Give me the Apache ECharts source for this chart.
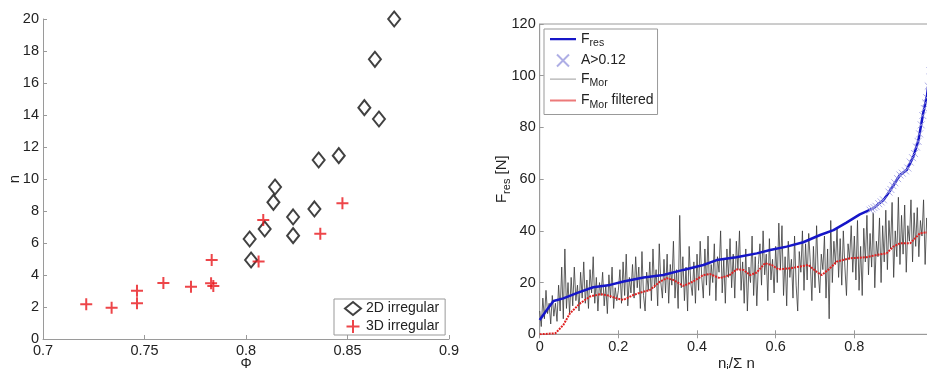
<!DOCTYPE html>
<html>
<head>
<meta charset="utf-8">
<script src="https://cdn.jsdelivr.net/npm/echarts@6/dist/echarts.min.js"></script>
<style>
html,body{margin:0;padding:0;background:#fff;}
#c{width:927px;height:369px;}
</style>
</head>
<body>
<div id="c"></div>
<script>
// ---- Left plot data ----
const phi2D = [0.873,0.8635,0.8583,0.8655,0.8457,0.8358,0.8143,0.8135,0.8337,0.8232,0.8232,0.8092,0.8018,0.8025];
const n2D   = [20.0,17.48,14.46,13.75,11.46,11.19,9.5,8.54,8.13,7.63,6.46,6.88,6.25,4.94];
const phi3D = [0.7213,0.7338,0.7463,0.7463,0.7593,0.7729,0.7831,0.7828,0.7839,0.8062,0.8085,0.8366,0.8475];
const n3D   = [2.17,1.96,3.02,2.23,3.5,3.27,4.94,3.48,3.31,4.85,7.44,6.58,8.48];
const leftXTicks = [0.7,0.75,0.8,0.85,0.9];

// ---- Right plot data ----
const fresX = [0,0.018,0.035,0.06,0.094,0.136,0.179,0.213,0.264,0.314,0.365,0.416,0.45,0.5,0.552,0.586,0.628,0.67,0.713,0.747,0.78,0.814,0.848,0.874,0.891,0.916,0.933,0.95,0.963,0.975,0.985,0.99,1.0];
const fresY = [5.5,9.4,12.9,13.9,15.9,18.2,19.1,20.4,22.0,22.9,24.9,26.8,28.7,29.8,31.3,32.6,33.9,35.6,38.4,40.3,43.2,46.4,48.7,51.9,55.6,61.6,63.5,68.7,75.1,85.5,92.5,99,118];

const markX = [0.840,0.845,0.850,0.855,0.862,0.868,0.874,0.888,0.893,0.898,0.903,0.910,0.916,0.922,0.930,0.936,0.942,0.948,0.953,0.958,0.962,0.966,0.970,0.974,0.978,0.981,0.984,0.988,0.992];
const markY = [48.0,48.5,49.0,49.5,50.5,51.2,52.0,55.0,56.0,57.5,58.6,60.2,61.6,62.3,63.2,64.3,66.6,68.3,69.9,72.4,74.6,77.5,81.0,84.6,87.3,89.5,91.5,96.0,102.0];

const morStart = 0, morStep = 0.004;
const morY = [
 9,3,14,6,17,8,12,4,15,7,
 12,5,19,9,26,6,33,10,20,8,
 22,11,26,13,19,9,24,14,28,12,
 21,10,25,16,30,12,22,9,20,15,
 24,11,19,8,23,14,26,10,18,13,
 17,25,12,28,15,31,11,22,16,27,
 14,30,18,26,10,32,15,9,24,17,
 28,13,33,18,25,11,35,20,14,29,
 16,31,12,27,19,36,14,25,10,46,
 18,30,13,26,9,34,20,15,28,12,
 31,17,36,22,14,33,19,38,15,27,
 20,35,13,30,24,40,16,29,12,33,
 22,37,18,31,14,36,25,40,17,28,
 12,33,9,26,20,38,15,30,11,27,
 35,19,40,23,31,13,37,21,29,16,
 34,20,43,25,42,15,30,11,36,22,
 29,14,38,19,9,32,24,40,17,35,
 21,39,28,13,34,18,42,24,16,31,
 25,38,14,33,6,44,20,36,27,41,
 22,37,19,40,26,15,35,29,42,24,
 38,21,44,17,34,15,41,28,46,23,
 39,26,47,18,36,30,45,20,42,28,
 48,25,44,33,51,22,40,30,53,27,
 46,31,50,24,42,36,52,28,47,34,
 49,30,44,38,52,27,45,35,53,41
];

const filtX = [0,0.04,0.06,0.077,0.103,0.128,0.153,0.17,0.196,0.213,0.238,0.264,0.28,0.306,0.323,0.34,0.365,0.39,0.416,0.433,0.458,0.483,0.5,0.518,0.535,0.552,0.573,0.59,0.607,0.636,0.662,0.683,0.704,0.717,0.738,0.755,0.789,0.831,0.857,0.882,0.899,0.916,0.942,0.967,0.985,1.0];
const filtY = [0,0.4,3.6,8.1,12,14.6,15.5,15.2,13.9,13.3,15.2,16.5,17.1,20.4,21.7,21.0,18.7,20.4,22.9,23.3,21.7,22.9,25.1,24.9,22.9,23.9,27.5,26.8,25.1,25.5,26.2,26.8,24.2,22.9,25.5,28.1,29.4,29.8,30.7,31.3,33.9,35.2,35.2,39.1,39.4,40];

function pairs(xs, ys){ return xs.map((x,i)=>[x, ys[i]]); }
const morData = morY.map((v,i)=>[morStart + i*morStep, v]);

const chart = echarts.init(document.getElementById('c'), null, {renderer:'canvas'});
const FONT = 'Liberation Sans, Arial, sans-serif';
const axisGray = '#9a9a9a';
const labelCol = '#222';
const plusPath = 'path://M5,0L5,10M0,5L10,5';
const xPath = 'path://M0,0L10,10M10,0L0,10';
const richSub = {b:{fontSize:15, fontFamily:FONT, color:labelCol}, s:{fontSize:11, fontFamily:FONT, color:labelCol, padding:[10,0,0,0]}};
const richLeg = {b:{fontSize:14, fontFamily:FONT, color:labelCol}, s:{fontSize:10.5, fontFamily:FONT, color:labelCol, padding:[9,0,0,0]}};
// legend icons (frame corners keep the 26x12 box, bar is the line)
const lineIcon = 'path://M0,0L0.01,0L0.01,0.01Z M0,5L26,5L26,7.2L0,7.2Z M0,12L0.01,12L0.01,11.99Z';
const thinIcon = 'path://M0,0L0.01,0L0.01,0.01Z M0,5.5L26,5.5L26,6.7L0,6.7Z M0,12L0.01,12L0.01,11.99Z';
let dots = 'path://M0,0L0.01,0L0.01,0.01Z M0,12L0.01,12L0.01,11.99Z';
for (let k = 0; k < 26; k += 2) dots += ' M'+k+',5L'+(k+1.2)+',5L'+(k+1.2)+',7L'+k+',7Z';

const option = {
  animation:false,
  textStyle:{fontFamily:FONT},
  grid:[
    {left:43, top:19, width:406, height:320, show:false, containLabel:false, outerBoundsMode:'none'},
    {left:539.7, top:24, width:393.3, height:310.3, show:true, borderColor:axisGray, borderWidth:1, containLabel:false, outerBoundsMode:'none'}
  ],
  xAxis:[
    {gridIndex:0, type:'value', min:0.7, max:0.9, interval:0.05,
     axisLine:{show:true, onZero:false, lineStyle:{color:axisGray}},
     axisTick:{show:true, inside:true, length:4, lineStyle:{color:axisGray}},
     axisLabel:{color:labelCol, fontSize:14.5, margin:4, fontFamily:FONT,
       formatter:v=>{ const t = leftXTicks.find(k=>Math.abs(k-v)<1e-6); return t===undefined? '' : String(t);} },
     splitLine:{show:false},
     name:'Φ', nameLocation:'middle', nameGap:18, nameMoveOverlap:false,
     nameTextStyle:{color:labelCol, fontSize:14, fontFamily:FONT}},
    {gridIndex:1, type:'value', min:0, max:1, interval:0.2,
     axisLine:{show:true, onZero:false, lineStyle:{color:axisGray}},
     axisTick:{show:true, inside:true, length:4, lineStyle:{color:axisGray}},
     axisLabel:{color:labelCol, fontSize:14.5, margin:5, fontFamily:FONT},
     splitLine:{show:false},
     name:'{b|n}{s|i}{b|/Σ n}', nameLocation:'middle', nameGap:19, nameMoveOverlap:false,
     nameTextStyle:{color:labelCol, fontFamily:FONT, rich:richSub}},
    {gridIndex:1, type:'value', min:0, max:1, interval:0.2, position:'top',
     axisLine:{show:false}, axisTick:{show:true, inside:true, length:4, lineStyle:{color:axisGray}},
     axisLabel:{show:false}, splitLine:{show:false}}
  ],
  yAxis:[
    {gridIndex:0, type:'value', min:0, max:20, interval:2,
     axisLine:{show:true, onZero:false, lineStyle:{color:axisGray}},
     axisTick:{show:true, inside:true, length:4, lineStyle:{color:axisGray}},
     axisLabel:{color:labelCol, fontSize:14.5, margin:4, fontFamily:FONT},
     splitLine:{show:false},
     name:'n', nameLocation:'middle', nameGap:21, nameMoveOverlap:false,
     nameTextStyle:{color:labelCol, fontSize:15, fontFamily:FONT}},
    {gridIndex:1, type:'value', min:0, max:120, interval:20,
     axisLine:{show:true, onZero:false, lineStyle:{color:axisGray}},
     axisTick:{show:true, inside:true, length:4, lineStyle:{color:axisGray}},
     axisLabel:{color:labelCol, fontSize:14.5, margin:4, fontFamily:FONT},
     splitLine:{show:false},
     name:'{b|F}{s|res}{b| [N]}', nameLocation:'middle', nameGap:27, nameMoveOverlap:false,
     nameTextStyle:{color:labelCol, fontFamily:FONT, rich:richSub}}
  ],
  legend:[
    {left:334, top:299, orient:'vertical', itemWidth:16, itemHeight:13, itemGap:3,
     borderColor:'#999', borderWidth:1, padding:[2,6,1,10], backgroundColor:'#fff',
     textStyle:{fontSize:14, color:labelCol, fontFamily:FONT},
     data:['2D irregular','3D irregular']},
    {left:544, top:29, orient:'vertical', itemWidth:26, itemHeight:12, itemGap:4.5,
     borderColor:'#999', borderWidth:1, padding:[3,4,4,6], backgroundColor:'#fff',
     textStyle:{fontSize:14, color:labelCol, fontFamily:FONT, rich:richLeg},
     formatter:function(name){
       if(name==='Fres') return '{b|F}{s|res}';
       if(name==='FMor') return '{b|F}{s|Mor}';
       if(name==='FMorf') return '{b|F}{s|Mor}{b| filtered}';
       return name;
     },
     data:[
       {name:'Fres', icon:lineIcon, itemStyle:{color:'#1616c8'}},
       {name:'A>0.12'},
       {name:'FMor', icon:thinIcon, itemStyle:{color:'#b0b0b0'}},
       {name:'FMorf', icon:dots, itemStyle:{color:'#e02020'}}
     ]}
  ],
  series:[
    {name:'2D irregular', type:'scatter', xAxisIndex:0, yAxisIndex:0,
     data:pairs(phi2D,n2D), symbol:'diamond', symbolSize:[12,15],
     itemStyle:{color:'#fff', borderColor:'#111', borderWidth:2}},
    {name:'3D irregular', type:'scatter', xAxisIndex:0, yAxisIndex:0,
     data:pairs(phi3D,n3D), symbol:plusPath, symbolSize:[12,12],
     itemStyle:{color:'rgba(0,0,0,0)', borderColor:'#e8161b', borderWidth:2}},
    {name:'FMor', type:'line', xAxisIndex:1, yAxisIndex:1, data:morData, symbol:'none',
     lineStyle:{color:'#3a3a3a', width:0.8}, itemStyle:{color:'#aaa'}, z:2},
    {name:'Fres', type:'line', xAxisIndex:1, yAxisIndex:1, data:pairs(fresX,fresY), symbol:'none',
     lineStyle:{color:'#1616c8', width:2.5}, itemStyle:{color:'#1616c8'}, z:4},
    {name:'A>0.12', type:'scatter', xAxisIndex:1, yAxisIndex:1, data:pairs(markX,markY), symbol:xPath, symbolSize:7,
     itemStyle:{color:'rgba(0,0,0,0)', borderColor:'#9a9ade', borderWidth:1}, z:5},
    {name:'FMorf', type:'line', xAxisIndex:1, yAxisIndex:1, data:pairs(filtX,filtY), symbol:'none',
     lineStyle:{color:'#e02020', width:2, type:[2,1]}, itemStyle:{color:'#e02020'}, z:3}
  ]
};
chart.setOption(option);
</script>
</body>
</html>
